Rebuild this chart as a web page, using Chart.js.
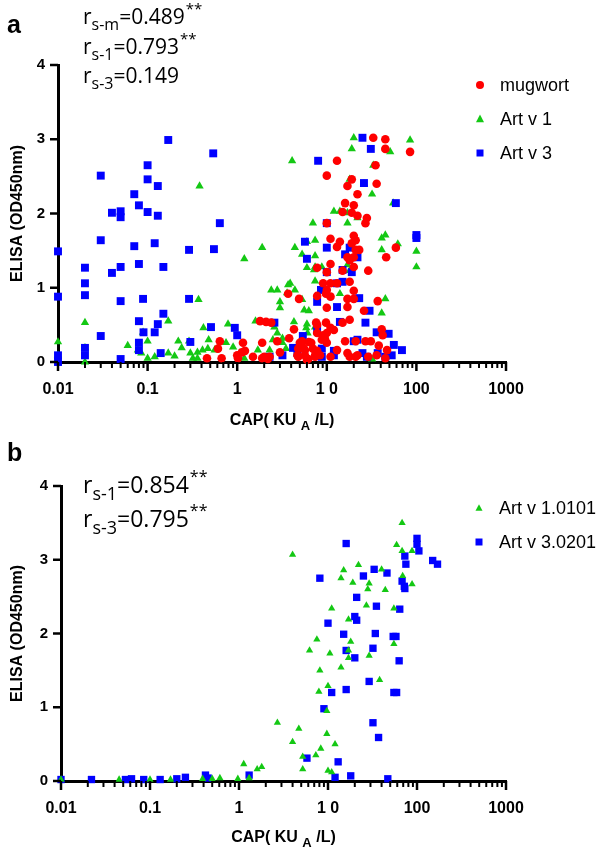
<!DOCTYPE html>
<html>
<head>
<meta charset="utf-8">
<script src="https://cdn.jsdelivr.net/npm/chart.js@4.4.1/dist/chart.umd.min.js"></script>
<style>
  html, body { margin: 0; padding: 0; background: #fff; }
  body { width: 598px; height: 857px; position: relative; overflow: hidden; }
  canvas { position: absolute; left: 0; }
  #chartA { top: 0; }
  #chartB { top: 440px; }
</style>
</head>
<body>
<canvas id="chartA" width="598" height="440"></canvas>
<canvas id="chartB" width="598" height="417"></canvas>
<script>
// Ejes y textos
const X_TICK_VALUES = [0.01, 0.1, 1, 10, 100, 1000];
const X_TICK_LABELS = ['0.01', '0.1', '1', '1 0', '100', '1000'];
const Y_TICK_VALUES = [0, 1, 2, 3, 4];
const Y_TITLE = 'ELISA (OD450nm)';

const RS_A = [['s-m', '=0.489', '**'], ['s-1', '=0.793', '**'], ['s-3', '=0.149', '']];
const RS_B = [['s-1', '=0.854', '**'], ['s-3', '=0.795', '**']];
const LEGEND_A = ['mugwort', 'Art v 1', 'Art v 3'];
const LEGEND_B = ['Art v 1.0101', 'Art v 3.0201'];

// Panel a: [CAP, ELISA]
const MUGWORT_A = [
  [1.8,0.55],[2.1,0.54],[2.4,0.53],[3.7,0.92],[4.9,0.85],[7.8,1.27],[7.8,0.89],[0.64,0.28],[0.61,0.18],[0.67,0.05],
  [0.46,0.05],[1.16,0.26],[1.13,0.13],[1.0,0.09],[1.02,0.05],[1.22,0.15],[1.5,0.07],[1.9,0.26],[1.9,0.05],[2.3,0.07],
  [2.8,0.28],[3.0,0.13],[3.8,0.32],[4.3,0.44],[5.0,0.26],[5.7,0.16],[6.3,0.27],[4.7,0.09],[6.0,0.03],[7.4,0.09],
  [7.8,0.50],[7.8,0.39],[33,3.02],[45,3.0],[45,2.87],[85,2.83],[13,2.71],[10,2.51],[35,2.65],[19,2.46],
  [17,2.37],[36,2.40],[22,2.26],[16,2.14],[20,2.11],[15,2.02],[19,2.01],[22,1.97],[28,1.94],[10,1.87],
  [27,1.87],[59,1.54],[46,1.41],[11,1.66],[14,1.62],[13,1.55],[19,1.60],[20,1.70],[21,1.64],[21,1.51],
  [23,1.51],[17,1.41],[20,1.41],[18,1.37],[11,1.32],[10,1.21],[15,1.23],[20,1.28],[29,1.23],[9.1,1.06],
  [11,1.06],[13,1.06],[18,1.08],[10,0.97],[20,0.96],[9.8,0.92],[11,0.88],[17,0.85],[20,0.85],[37,0.82],
  [10,0.73],[17,0.74],[26,0.69],[7.6,0.53],[9.8,0.53],[15,0.53],[18,0.57],[11,0.46],[12,0.43],[10,0.39],
  [9.1,0.36],[9.5,0.32],[41,0.44],[42,0.36],[5.3,0.28],[6.7,0.26],[8.8,0.30],[10,0.26],[16,0.28],[21,0.28],
  [27,0.28],[31,0.28],[38,0.22],[47,0.16],[4.8,0.18],[5.5,0.19],[7.0,0.18],[7.8,0.15],[13,0.16],[2.0,0.07],
  [2.2,0.04],[4.8,0.07],[5.7,0.09],[6.2,0.04],[7.4,0.07],[8.4,0.09],[11,0.07],[17,0.12],[18,0.07],[21,0.07],
  [22,0.09],[29,0.07],[36,0.09],[45,0.05]
];
const ARTV1_A = [
  [4.1,2.71],[0.38,2.37],[1.9,1.54],[1.2,1.39],[0.37,0.84],[0.02,0.53],[0.17,0.55],[0.089,0.40],[0.42,0.46],[0.79,0.51],
  [1.6,0.55],[2.4,0.97],[2.8,0.97],[3.0,0.81],[3.0,0.73],[3.9,1.06],[3.7,1.04],[4.4,1.54],[5.3,1.45],[6.0,1.62],
  [7.4,1.64],[7.0,1.87],[7.4,1.43],[6.0,1.27],[7.4,1.28],[7.4,1.09],[4.4,0.97],[5.3,0.84],[5.6,0.70],[6.3,0.69],
  [4.3,0.54],[6.0,0.51],[5.9,0.46],[7.4,0.47],[0.01,0.27],[0.01,0.09],[0.02,0.19],[0.02,0],[0.22,0.28],[0.29,0.28],
  [0.48,0.30],[0.75,0.26],[0.06,0.22],[0.10,0.28],[0.24,0.19],[0.30,0.12],[0.36,0.13],[0.41,0.16],[0.47,0.18],[0.56,0.16],
  [0.078,0.16],[0.085,0.12],[0.10,0.05],[0.12,0.07],[0.17,0.12],[0.20,0.08],[0.90,0.20],[1.07,0.12],[1.2,0.05],[1.7,0.16],
  [2.3,0.16],[2.5,0.30],[3.2,0.26],[0.32,0.05],[0.36,0.05],[20,3.02],[19,2.87],[85,2.99],[51,2.83],[33,2.65],
  [18,2.46],[26,2.40],[32,2.26],[55,2.14],[12,2.03],[14,2.03],[17,2.01],[17,1.87],[22,1.94],[41,1.67],
  [45,1.71],[62,1.59],[100,1.49],[100,1.28],[41,1.51],[7.2,1.24],[8.8,1.28],[17,1.31],[18,1.23],[3.6,0.93],
  [14,0.92],[45,0.85],[41,0.66],[2.6,0.47],[2.8,0.39],[3.2,0.32],[6.1,0.39],[3.5,0.18],[32,0.04]
];
const ARTV3_A = [
  [0.17,2.99],[0.54,2.81],[0.10,2.65],[0.03,2.51],[0.10,2.46],[0.13,2.37],[0.071,2.26],[0.08,2.11],[0.04,2.01],[0.05,2.03],
  [0.05,1.95],[0.10,2.02],[0.13,1.97],[0.64,1.87],[0.03,1.64],[0.071,1.56],[0.12,1.60],[0.29,1.51],[0.55,1.52],[0.01,1.49],
  [0.02,1.27],[0.04,1.20],[0.05,1.28],[0.08,1.32],[0.15,1.28],[0.02,1.06],[0.02,0.90],[0.01,0.88],[0.05,0.82],[0.089,0.85],
  [0.29,0.85],[0.15,0.65],[0.13,0.51],[0.08,0.55],[0.09,0.40],[0.12,0.40],[0.03,0.35],[0.51,0.47],[0.94,0.46],[1.0,0.36],
  [0.08,0.26],[0.08,0.16],[0.30,0.27],[0.02,0.19],[0.02,0.09],[0.14,0.12],[0.05,0.04],[2.6,0.53],[4.2,0.19],[4.7,0.12],
  [5.7,1.62],[6.0,1.39],[8.0,2.71],[7.8,0.43],[0.01,0],[0.01,0.09],[25,3.02],[31,2.87],[26,2.41],[59,2.14],
  [10,1.87],[100,1.71],[100,1.67],[10,1.54],[16,1.45],[18,1.54],[22,1.41],[10,1.21],[15,1.24],[19,1.21],
  [13,1.06],[15,1.08],[8.6,0.97],[23,0.86],[7.8,0.81],[13,0.74],[30,0.69],[14,0.54],[27,0.53],[36,0.40],
  [49,0.38],[5.4,0.35],[8.8,0.18],[12,0.15],[22,0.30],[20,0.28],[56,0.23],[69,0.16],[53,0.09],[2.3,0.07],
  [3.2,0.09],[8.8,0.07],[12,0.09],[25,0.12],[28,0.07],[37,0.12],[45,0.07]
];

// Panel b
const ARTV1_B = [
  [68,3.50],[59,3.20],[68,3.12],[88,3.12],[15,2.86],[14,2.75],[22,2.93],[19,2.69],[29,2.68],[28,2.60],
  [44,2.59],[40,2.87],[69,2.78],[88,2.67],[11,2.34],[27,2.38],[55,2.34],[17,2.19],[7.5,1.92],[6.2,1.77],
  [18,1.89],[55,1.86],[10.5,1.73],[17,1.77],[17,1.67],[29,1.70],[14,1.54],[8.1,1.50],[38,1.37],[10,1.29],
  [7.9,1.21],[9.7,0.95],[2.7,0.79],[4.7,0.71],[4.0,0.53],[9.7,0.64],[12,0.50],[8.3,0.44],[7.3,0.35],[5.2,0.33],
  [5.2,0.16],[10,0.14],[11,0.12],[1.13,0.23],[1.6,0.16],[1.8,0.19],[1.3,0.04],[0.97,0.03],[0.61,0.04],[0.5,0.03],
  [0.39,0.03],[4.0,3.07],[0.01,0.02],[0.045,0.02],[0.1,0.02],[0.17,0.02]
];
const ARTV3_B = [
  [16,3.22],[100,3.29],[100,3.21],[105,3.12],[73,3.05],[75,2.94],[150,2.99],[170,2.94],[8.1,2.75],[33,2.87],
  [46,2.82],[25,2.78],[68,2.71],[72,2.64],[73,2.61],[21,2.49],[35,2.37],[64,2.33],[10,2.14],[20,2.23],
  [21,2.18],[15,1.99],[34,2.0],[54,1.96],[58,1.96],[16,1.77],[20,1.67],[32,1.80],[63,1.63],[29,1.35],
  [11,1.20],[16,1.24],[55,1.20],[59,1.20],[9.0,0.98],[32,0.79],[37,0.59],[5.8,0.31],[13,0.26],[12,0.05],
  [18,0.07],[47,0.03],[1.3,0.08],[0.42,0.08],[0.45,0.04],[0.01,0.02],[0.022,0.02],[0.053,0.02],[0.062,0.03],[0.085,0.02],
  [0.13,0.02],[0.2,0.03],[0.25,0.05]
];

const RED = '#ff0000';
const GREEN = '#14c814';
const BLUE = '#0000ff';
const SANS = '"Liberation Sans", Arial, sans-serif';
const NOTE = '"Open Sans", sans-serif';

Chart.defaults.font.family = SANS;
Chart.defaults.color = '#000';

function toPoints(arr) {
  return arr.map(p => ({ x: p[0], y: p[1] }));
}

// ticks mayores y menores del eje logarítmico
function logTicks() {
  const ticks = [];
  X_TICK_VALUES.forEach((v, i) => {
    ticks.push({ value: v, major: true });
    if (i < X_TICK_VALUES.length - 1) {
      for (let k = 2; k <= 9; k++) ticks.push({ value: v * k, major: false });
    }
  });
  return ticks;
}

function drawMarker(ctx, style, x, y, s, color) {
  ctx.fillStyle = color;
  ctx.beginPath();
  if (style === 'circle') {
    ctx.arc(x, y, s / 2, 0, Math.PI * 2);
  } else if (style === 'triangle') {
    ctx.moveTo(x, y - s * 0.55);
    ctx.lineTo(x + s / 2, y + s * 0.4);
    ctx.lineTo(x - s / 2, y + s * 0.4);
    ctx.closePath();
  } else {
    ctx.rect(x - s / 2, y - s / 2, s, s);
  }
  ctx.fill();
}

function drawRs(ctx, x, y, parts, sz) {
  const [sub, val, star] = parts;
  ctx.textAlign = 'left';
  ctx.textBaseline = 'alphabetic';
  ctx.fillStyle = '#000';
  ctx.font = sz.main + 'px ' + NOTE;
  ctx.fillText('r', x, y);
  x += ctx.measureText('r').width;
  ctx.font = sz.sub + 'px ' + NOTE;
  ctx.fillText(sub, x, y + sz.subDy);
  x += ctx.measureText(sub).width;
  ctx.font = sz.main + 'px ' + NOTE;
  ctx.fillText(val, x, y);
  x += ctx.measureText(val).width;
  if (star) {
    ctx.font = sz.sup + 'px ' + NOTE;
    ctx.fillText(star, x + 1, y - sz.supDy);
  }
}

function makeDecor(cfg) {
  return {
    id: 'decor',
    afterDraw(chart) {
      const ctx = chart.ctx;
      const area = chart.chartArea;
      const xs = chart.scales.x;
      const ys = chart.scales.y;
      ctx.save();

      // marcas de los ejes
      ctx.strokeStyle = '#000';
      xs.ticks.forEach(t => {
        const px = xs.getPixelForValue(t.value);
        ctx.lineWidth = t.major ? 2.5 : 2;
        ctx.beginPath();
        ctx.moveTo(px, area.bottom);
        ctx.lineTo(px, area.bottom + (t.major ? 9 : 6));
        ctx.stroke();
      });
      ys.ticks.forEach(t => {
        const py = ys.getPixelForValue(t.value);
        ctx.lineWidth = 2.5;
        ctx.beginPath();
        ctx.moveTo(area.left, py);
        ctx.lineTo(area.left - 8, py);
        ctx.stroke();
      });

      // títulos de los ejes
      ctx.fillStyle = '#000';
      ctx.font = 'bold 16px ' + SANS;
      ctx.textAlign = 'center';
      ctx.textBaseline = 'middle';
      ctx.save();
      ctx.translate(cfg.yTitleX, (area.top + area.bottom) / 2);
      ctx.rotate(-Math.PI / 2);
      ctx.fillText(Y_TITLE, 0, 0);
      ctx.restore();

      ctx.textBaseline = 'alphabetic';
      ctx.textAlign = 'left';
      const t1 = 'CAP( KU ', t2 = 'A', t3 = ' /L)';
      ctx.font = 'bold 16px ' + SANS;
      const w1 = ctx.measureText(t1).width, w3 = ctx.measureText(t3).width;
      ctx.font = 'bold 13px ' + SANS;
      const w2 = ctx.measureText(t2).width;
      let tx = (area.left + area.right) / 2 - (w1 + w2 + w3) / 2;
      const ty = area.bottom + cfg.xTitleDy;
      ctx.font = 'bold 16px ' + SANS;
      ctx.fillText(t1, tx, ty);
      ctx.font = 'bold 13px ' + SANS;
      ctx.fillText(t2, tx + w1, ty + 5);
      ctx.font = 'bold 16px ' + SANS;
      ctx.fillText(t3, tx + w1 + w2, ty);

      // letra del panel
      ctx.font = 'bold 25px ' + SANS;
      ctx.fillText(cfg.letter, 7, cfg.letterY);

      // coeficientes de Spearman
      cfg.rs.forEach((parts, i) => drawRs(ctx, 83, cfg.rsY + i * cfg.rsStep, parts, cfg.rsSize));

      // leyenda
      cfg.legend.forEach((item, i) => {
        const y = cfg.legendY + i * cfg.legendStep;
        drawMarker(ctx, item.style, cfg.legendX, y, item.size, item.color);
        ctx.fillStyle = '#000';
        ctx.font = '18px ' + SANS;
        ctx.textBaseline = 'middle';
        ctx.fillText(item.label, cfg.legendX + 20, y + 1);
      });
      ctx.restore();
    }
  };
}

function makeChart(id, datasets, cfg) {
  return new Chart(document.getElementById(id), {
    type: 'scatter',
    data: { datasets: datasets },
    options: {
      responsive: false,
      animation: false,
      devicePixelRatio: 1,
      events: [],
      layout: { padding: { left: 0, right: 598 - cfg.right, top: cfg.top, bottom: 0 } },
      plugins: { legend: { display: false }, tooltip: { enabled: false } },
      scales: {
        x: {
          type: 'logarithmic',
          min: 0.01,
          max: 1000,
          afterBuildTicks(scale) { scale.ticks = logTicks(); },
          afterFit(scale) { scale.height = cfg.height - cfg.bottom; },
          grid: { color: 'rgba(0,0,0,0)', drawOnChartArea: false, tickLength: 8 },
          border: { display: true, color: '#000', width: 3 },
          ticks: {
            autoSkip: false,
            maxRotation: 0,
            padding: 10,
            color: '#000',
            font: { family: SANS, weight: 'bold', size: 16 },
            callback(value) {
              const i = X_TICK_VALUES.indexOf(value);
              return i >= 0 ? X_TICK_LABELS[i] : '';
            }
          }
        },
        y: {
          min: 0,
          max: 4,
          afterBuildTicks(scale) { scale.ticks = Y_TICK_VALUES.map(v => ({ value: v })); },
          afterFit(scale) { scale.width = cfg.left; },
          grid: { color: 'rgba(0,0,0,0)', drawOnChartArea: false, tickLength: 8 },
          border: { display: true, color: '#000', width: 3 },
          ticks: {
            padding: 5,
            color: '#000',
            font: { family: SANS, weight: 'bold', size: 15 }
          }
        }
      }
    },
    plugins: [makeDecor(cfg)]
  });
}

function series(label, data, style, radius, color, order) {
  return {
    label: label,
    data: toPoints(data),
    pointStyle: style,
    pointRadius: radius,
    pointBorderWidth: 0,
    backgroundColor: color,
    borderColor: color,
    order: order,
    clip: false
  };
}

makeChart('chartA', [
  series(LEGEND_A[0], MUGWORT_A, 'circle', 4.3, RED, 0),
  series(LEGEND_A[1], ARTV1_A, 'triangle', 4.8, GREEN, 2),
  series(LEGEND_A[2], ARTV3_A, 'rect', 5.6, BLUE, 1)
], {
  left: 58, right: 506, top: 65, bottom: 362, height: 440,
  yTitleX: 18, xTitleDy: 63, letter: 'a', letterY: 33,
  rs: RS_A, rsY: 24, rsStep: 29.5, rsSize: { main: 21, sub: 16, sup: 15, subDy: 6, supDy: 10 },
  legendX: 480, legendY: 85, legendStep: 34,
  legend: [
    { label: LEGEND_A[0], style: 'circle', size: 8, color: RED },
    { label: LEGEND_A[1], style: 'triangle', size: 8, color: GREEN },
    { label: LEGEND_A[2], style: 'rect', size: 7, color: BLUE }
  ]
});

makeChart('chartB', [
  series(LEGEND_B[0], ARTV1_B, 'triangle', 4.2, GREEN, 0),
  series(LEGEND_B[1], ARTV3_B, 'rect', 5.2, BLUE, 1)
], {
  left: 61, right: 506, top: 46, bottom: 341, height: 417,
  yTitleX: 18, xTitleDy: 61, letter: 'b', letterY: 21,
  rs: RS_B, rsY: 53, rsStep: 34, rsSize: { main: 23, sub: 18, sup: 16, subDy: 7, supDy: 11 },
  legendX: 479, legendY: 68, legendStep: 34,
  legend: [
    { label: LEGEND_B[0], style: 'triangle', size: 7, color: GREEN },
    { label: LEGEND_B[1], style: 'rect', size: 7, color: BLUE }
  ]
});
</script>
</body>
</html>
